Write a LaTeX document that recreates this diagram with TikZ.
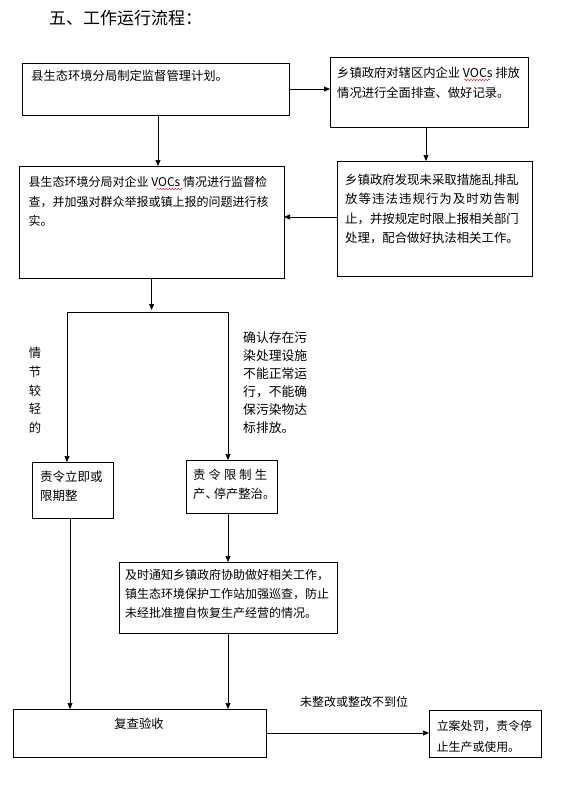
\documentclass[tikz,border=0pt]{standalone}
\usepackage{fontspec}
\usetikzlibrary{arrows.meta,decorations.pathmorphing}
\newfontfamily\cjk{Noto Sans CJK SC}
\begin{document}
\begin{tikzpicture}[x=1pt,y=-1pt,
  box/.style={draw, line width=0.7pt, anchor=north west, inner sep=0pt, outer sep=0pt},
  txt/.style={anchor=north west, inner sep=0pt, align=left, font=\cjk\fontsize{12.3}{19.5}\selectfont},
  stxt/.style={inner sep=0pt, font=\cjk\fontsize{12.3}{15}\selectfont},
  arr/.style={line width=0.7pt, -{Triangle[length=6pt,width=5pt]}},
  ln/.style={line width=0.7pt},
  wave/.style={red, line width=0.4pt, decorate, decoration={snake, segment length=3pt, amplitude=0.7pt}}]
\useasboundingbox (0,0) rectangle (570,790);
% title
\node[anchor=west, inner sep=0pt, font=\cjk\fontsize{17}{20}\selectfont] (title) at (49,18) {五、工作运行流程：};
% boxes
\node[box, minimum width=267pt, minimum height=52pt] (b1) at (22,63) {};
\node[box, minimum width=198pt, minimum height=70pt] (b2) at (330,57) {};
\node[box, minimum width=265pt, minimum height=112pt] (b3) at (19,166) {};
\node[box, minimum width=195pt, minimum height=115pt] (b4) at (337,161) {};
\node[box, minimum width=81pt, minimum height=56pt] (b5) at (32,462) {};
\node[box, minimum width=91pt, minimum height=53pt] (b6) at (186,460) {};
\node[box, minimum width=218pt, minimum height=71pt] (b7) at (119,562) {};
\node[box, minimum width=253pt, minimum height=48pt] (b8) at (13,709) {};
\node[box, minimum width=112pt, minimum height=47pt] (b9) at (429,710) {};
% texts
\node[stxt, anchor=west] (t1) at (31,76) {县生态环境分局制定监督管理计划。};
\node[txt, font=\cjk\fontsize{12.3}{20}\selectfont] (t2) at (337,67.3) {乡镇政府对辖区内企业 VOCs 排放\\情况进行全面排查、做好记录。};
\node[txt, font=\cjk\fontsize{12}{19.5}\selectfont] (t3) at (28.5,176.3) {县生态环境分局对企业 VOCs 情况进行监督检\\查，并加强对群众举报或镇上报的问题进行核\\实。};
\node[txt, font=\cjk\fontsize{12.4}{19.6}\selectfont] (t4) at (345,173.3) {乡镇政府发现未采取措施乱排乱\\\hbox to 174pt{放\hfil 等\hfil 违\hfil 法\hfil 违\hfil 规\hfil 行\hfil 为\hfil 及\hfil 时\hfil 劝\hfil 告\hfil 制}\\止，并按规定时限上报相关部门\\处理，配合做好执法相关工作。};
\node[txt, anchor=north, align=center, font=\cjk\fontsize{12.3}{18.7}\selectfont] (t5) at (35,347.3) {情\\节\\较\\轻\\的};
\node[txt, font=\cjk\fontsize{12.8}{18}\selectfont] (t6) at (243,331.3) {确认存在污\\染处理设施\\不能正常运\\行，不能确\\保污染物达\\标排放。};
\node[txt, font=\cjk\fontsize{12.5}{19}\selectfont] (t7) at (40,470.3) {责令立即或\\限期整};
\node[txt, font=\cjk\fontsize{12.3}{18.5}\selectfont] (t8) at (193,469.3) {\hbox to 74pt{责\hfil 令\hfil 限\hfil 制\hfil 生}\\产、\kern-4pt 停产整治。};
\node[txt, font=\cjk\fontsize{12}{19}\selectfont] (t9) at (125,569.4) {及时通知乡镇政府协助做好相关工作，\\镇生态环境保护工作站加强巡查，防止\\未经批准擅自恢复生产经营的情况。};
\node[stxt] (t10) at (139,724) {复查验收};
\node[txt, font=\cjk\fontsize{11.9}{20.8}\selectfont] (t11) at (436.6,720.3) {立案处罚，责令停\\止生产或使用。};
\node[stxt, font=\cjk\fontsize{12}{15}\selectfont] (lab) at (354,702) {未整改或整改不到位};
% wavy marks under VOCs
\coordinate (w1a) at (464,80);
\coordinate (w1b) at (490,80);
\coordinate (w2a) at (156.5,189);
\coordinate (w2b) at (182.5,189);
\draw[wave] (w1a) -- (w1b);
\draw[wave] (w2a) -- (w2b);
% helper coordinates
\coordinate (x158) at (158,0);
\coordinate (x426) at (426,0);
\coordinate (y217) at (0,217);
\coordinate (x70) at (70,0);
\coordinate (splitend) at (151.6,310);
\coordinate (sl) at (67,312);
\coordinate (sr) at (228,312);
% connectors
\draw[arr] (b1.east) -- (b1.east -| b2.west);
\draw[arr] (b1.south -| x158) -- (b3.north -| x158);
\draw[arr] (b2.south -| x426) -- (b4.north -| x426);
\draw[arr] (b4.west |- y217) -- (b3.east |- y217);
\draw[arr] (b3.south -| splitend) -- (splitend);
\draw[ln] (sl) -- (sr);
\draw[arr] (sl) -- (sl |- b5.north);
\draw[arr] (sr) -- (sr |- b6.north);
\draw[arr] (b5.south -| x70) -- (b8.north -| x70);
\draw[arr] (b6.south -| sr) -- (b7.north -| sr);
\draw[arr] (b7.south -| sr) -- (b8.north -| sr);
\draw[arr] (b8.east) -- (b8.east -| b9.west);
\end{tikzpicture}
\end{document}
